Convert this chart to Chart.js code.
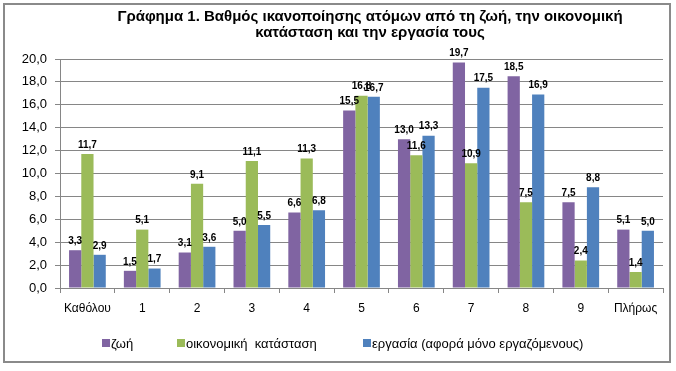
<!DOCTYPE html>
<html><head><meta charset="utf-8">
<script src="https://cdn.jsdelivr.net/npm/chart.js@4"></script>
<style>html,body{margin:0;padding:0;background:#fff;} canvas{display:block;}</style>
</head><body>
<canvas id="c" width="676" height="371"></canvas>
<script>
const categories = ['Καθόλου','1','2','3','4','5','6','7','8','9','Πλήρως'];
const lifeValues = [3.3,1.5,3.1,5.0,6.6,15.5,13.0,19.7,18.5,7.5,5.1];
const economicValues = [11.7,5.1,9.1,11.1,11.3,16.8,11.6,10.9,7.5,2.4,1.4];
const workValues = [2.9,1.7,3.6,5.5,6.8,16.7,13.3,17.5,16.9,8.8,5.0];
const seriesNames = ['ζωή','οικονομική  κατάσταση','εργασία (αφορά μόνο εργαζόμενους)'];
const titleLines = ['Γράφημα 1. Βαθμός ικανοποίησης ατόμων από τη ζωή, την οικονομική','κατάσταση και την εργασία τους'];
const yMin = 0, yMax = 20, yStep = 2;

const FONT = '"Liberation Sans", Arial, sans-serif';
const colors = ['#8064A2','#9BBB59','#4F81BD'];
const fmt = v => v.toFixed(1).replace('.', ',');

const framePlugin = {
  id: 'frame',
  beforeDraw(chart) {
    const ctx = chart.ctx;
    ctx.save();
    ctx.fillStyle = '#fff';
    ctx.fillRect(0,0,chart.width,chart.height);
    ctx.strokeStyle = '#8a8a8a';
    ctx.lineWidth = 2;
    ctx.strokeRect(4,4,666,358);
    ctx.restore();
  },
  afterDraw(chart) {
    const ctx = chart.ctx;
    ctx.save();
    // title
    ctx.fillStyle = '#000';
    ctx.font = 'bold 15px ' + FONT;
    ctx.textAlign = 'center';
    ctx.textBaseline = 'middle';
    ctx.fillText(titleLines[0], 370, 17);
    ctx.fillText(titleLines[1], 370, 33);
    // legend
    const xs = [102, 177, 363];
    ctx.font = '13px ' + FONT;
    ctx.textAlign = 'left';
    chart.data.datasets.forEach((ds, i) => {
      ctx.fillStyle = ds.backgroundColor;
      ctx.fillRect(xs[i], 339, 8, 8);
      ctx.fillStyle = '#000';
      ctx.fillText(ds.label, xs[i] + 9, 344);
    });
    ctx.restore();
  },
  afterDatasetsDraw(chart) {
    const ctx = chart.ctx;
    ctx.save();
    ctx.fillStyle = '#000';
    ctx.font = 'bold 10px ' + FONT;
    ctx.textAlign = 'center';
    ctx.textBaseline = 'bottom';
    chart.data.datasets.forEach((ds, i) => {
      const meta = chart.getDatasetMeta(i);
      meta.data.forEach((el, j) => {
        ctx.fillText(fmt(ds.data[j]), el.x, el.y - 4);
      });
    });
    ctx.restore();
  }
};

new Chart(document.getElementById('c'), {
  type: 'bar',
  data: {
    labels: categories,
    datasets: [
      {label: seriesNames[0], data: lifeValues, backgroundColor: colors[0]},
      {label: seriesNames[1], data: economicValues, backgroundColor: colors[1]},
      {label: seriesNames[2], data: workValues, backgroundColor: colors[2]}
    ]
  },
  options: {
    responsive: false,
    animation: false,
    devicePixelRatio: 1,
    layout: {padding: {top: 59, right: 13, left: 0, bottom: 0}},
    datasets: {bar: {barPercentage: 1, categoryPercentage: 0.67}},
    plugins: {legend: {display: false}, title: {display: false}, tooltip: {enabled: false}},
    scales: {
      x: {
        grid: {display: true, drawOnChartArea: false, drawTicks: true, tickLength: 5, color: '#868686', offset: true},
        border: {display: true, color: '#868686'},
        ticks: {color: '#000', font: {family: FONT, size: 12}, padding: 8, maxRotation: 0, autoSkip: false},
        afterFit(s) { s.height = 83; }
      },
      y: {
        min: yMin, max: yMax,
        grid: {color: '#868686', tickLength: 5, drawTicks: true},
        border: {display: true, color: '#868686'},
        ticks: {stepSize: yStep, color: '#000', font: {family: FONT, size: 13}, padding: 8, callback: v => fmt(v)},
        afterFit(s) { s.width = 60; }
      }
    }
  },
  plugins: [framePlugin]
});
</script>
</body></html>
